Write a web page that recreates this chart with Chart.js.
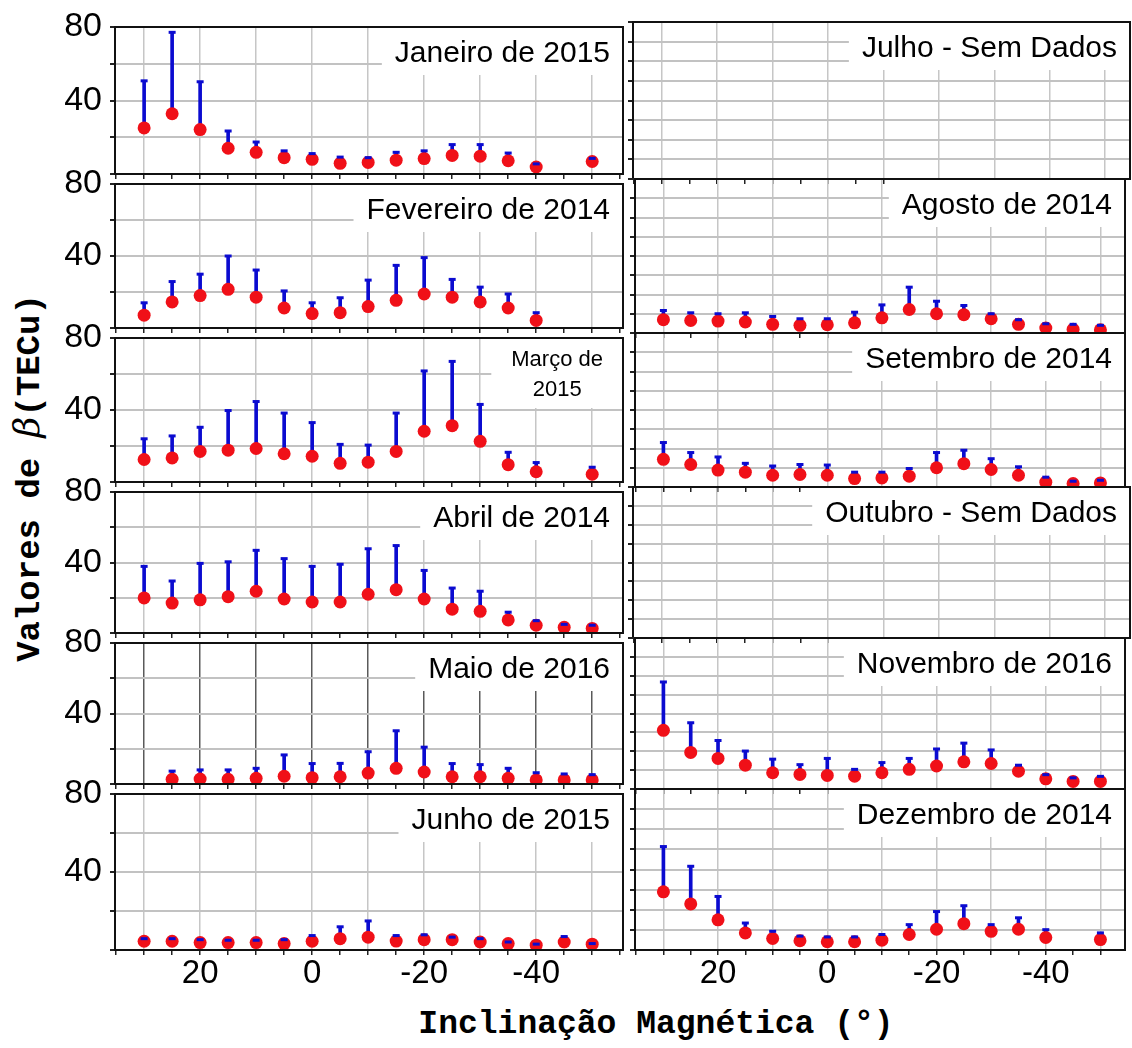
<!DOCTYPE html>
<html>
<head>
<meta charset="utf-8">
<script src="https://cdn.jsdelivr.net/npm/chart.js@4.4.1/dist/chart.umd.min.js"></script>
<style>
  body { margin: 0; background: #fff; width: 1132px; height: 1048px; position: relative; overflow: hidden; }
  canvas { position: absolute; }
  #tituloY {
    position: absolute; left: -184px; top: 458px; width: 420px; height: 40px; line-height: 40px;
    text-align: center; transform: rotate(-90deg);
    font: bold 34px "Liberation Mono", "DejaVu Sans Mono", monospace; color: #000; white-space: nowrap;
  }
  #tituloY i { font: italic 36px "DejaVu Serif", serif; }
  #tituloX {
    position: absolute; left: 356px; width: 600px; top: 1006px; text-align: center;
    font: bold 33px "Liberation Mono", "DejaVu Sans Mono", monospace; color: #000; white-space: nowrap;
  }
</style>
</head>
<body>
<div id="tituloY">Valores de <i>β</i>(TECu)</div>
<div id="tituloX">Inclinação Magnética (°)</div>
<script>
// inclinação magnética (graus) de cada ponto
const inclinacao = [30, 25, 20, 15, 10, 5, 0, -5, -10, -15, -20, -25, -30, -35, -40, -45, -50];
const rotulosX = [20, 0, -20, -40];
const rotulosY = [40, 80];

// beta (TECu) e limite superior da barra, por mês
const janeiroValor = [25.1, 32.8, 24.2, 14.0, 11.8, 8.9, 8.0, 5.8, 6.3, 7.5, 8.4, 10.1, 9.7, 7.2, 3.8, null, 6.8];
const janeiroSup   = [50.7, 77.1, 50.2, 23.4, 17.4, 12.6, 11.1, 9.2, 8.9, 11.8, 12.6, 16.0, 16.0, 11.4, 5.5, null, 8.5];

const fevereiroValor = [7.1, 14.5, 18.0, 21.5, 17.1, 11.1, 8.0, 8.5, 11.9, 15.4, 18.9, 17.1, 14.5, 11.1, 4.2, null, null];
const fevereiroSup   = [14.0, 25.8, 29.9, 40.0, 32.2, 20.6, 14.0, 16.8, 26.6, 34.8, 39.1, 27.0, 22.7, 18.9, 8.5, null, null];

const marcoValor = [12.5, 13.4, 17.0, 17.7, 18.6, 15.7, 14.3, 10.4, 11.0, 17.0, 28.2, 31.3, 22.6, 9.6, 5.7, null, 4.3];
const marcoSup   = [24.0, 25.6, 30.4, 39.7, 44.7, 38.3, 33.0, 20.9, 20.5, 38.3, 61.7, 67.0, 43.1, 16.5, 10.8, null, 8.2];

const abrilValor = [19.9, 17.0, 18.8, 20.6, 23.7, 19.3, 17.6, 17.6, 22.0, 24.6, 19.3, 13.5, 12.3, 7.4, 4.4, 3.2, 2.6];
const abrilSup   = [37.8, 29.5, 39.5, 40.4, 46.9, 42.2, 37.8, 39.0, 47.8, 49.6, 35.5, 25.5, 23.7, 11.8, 7.0, 4.9, 4.4];

const maioValor = [null, 2.7, 2.8, 2.7, 3.2, 4.4, 3.6, 4.1, 6.2, 8.9, 6.8, 4.1, 4.1, 3.2, 2.3, 2.3, 2.3];
const maioSup   = [null, 7.3, 8.0, 8.0, 8.9, 16.5, 11.6, 11.7, 18.3, 30.2, 20.9, 11.6, 11.0, 8.9, 6.4, 5.7, 5.3];

const junhoValor = [4.5, 4.5, 3.8, 3.8, 3.8, 3.3, 4.5, 5.8, 6.6, 4.6, 5.3, 5.3, 4.1, 3.3, 2.5, 4.1, 3.0];
const junhoSup   = [5.8, 5.8, 5.3, 5.0, 5.0, 5.3, 7.4, 11.9, 14.9, 7.4, 7.8, 6.6, 5.8, 4.1, 3.0, 6.9, 3.3];

const julhoValor = [];
const julhoSup   = [];

const agostoValor = [6.9, 6.5, 6.2, 5.7, 4.5, 4.0, 4.3, 5.3, 7.9, 12.2, 10.0, 9.5, 7.4, 4.5, 2.6, 1.9, 1.7];
const agostoSup   = [11.7, 10.5, 10.0, 10.5, 8.6, 7.4, 7.4, 10.8, 14.6, 23.8, 16.5, 14.3, 10.0, 6.9, 4.8, 4.5, 4.0];

const setembroValor = [14.4, 11.7, 8.8, 7.7, 6.1, 6.5, 6.1, 4.4, 4.7, 5.6, 10.0, 12.1, 9.1, 6.1, 2.5, 1.8, 2.1];
const setembroSup   = [23.1, 17.9, 15.6, 12.3, 10.9, 11.7, 11.4, 7.7, 7.7, 9.6, 17.9, 19.1, 14.7, 10.5, 5.1, 3.0, 3.5];

const outubroValor = [];
const outubroSup   = [];

const novembroValor = [31.1, 19.4, 16.2, 12.6, 8.6, 7.7, 7.2, 6.8, 8.6, 10.4, 12.2, 14.4, 13.5, 9.4, 5.4, 4.0, 4.0];
const novembroSup   = [56.7, 35.1, 25.7, 20.1, 15.8, 12.9, 16.2, 10.4, 14.0, 16.2, 21.2, 24.3, 20.7, 12.6, 7.6, 5.9, 6.7];

const dezembroValor = [28.9, 22.9, 15.0, 8.5, 5.7, 4.6, 4.1, 4.1, 4.9, 7.7, 10.3, 13.1, 9.3, 10.3, 6.2, null, 5.2];
const dezembroSup   = [51.4, 41.6, 26.6, 13.4, 9.3, 6.9, 6.5, 6.5, 7.7, 12.6, 19.1, 22.0, 12.6, 16.0, 10.1, null, 8.5];

const paineis = [
  { col: 0, lin: 0, nome: ["Janeiro de 2015"], valor: janeiroValor, sup: janeiroSup },
  { col: 0, lin: 1, nome: ["Fevereiro de 2014"], valor: fevereiroValor, sup: fevereiroSup },
  { col: 0, lin: 2, nome: ["Março de", "2015"], valor: marcoValor, sup: marcoSup },
  { col: 0, lin: 3, nome: ["Abril de 2014"], valor: abrilValor, sup: abrilSup },
  { col: 0, lin: 4, nome: ["Maio de 2016"], valor: maioValor, sup: maioSup },
  { col: 0, lin: 5, nome: ["Junho de 2015"], valor: junhoValor, sup: junhoSup },
  { col: 1, lin: 0, nome: ["Julho - Sem Dados"], valor: julhoValor, sup: julhoSup },
  { col: 1, lin: 1, nome: ["Agosto de 2014"], valor: agostoValor, sup: agostoSup },
  { col: 1, lin: 2, nome: ["Setembro de 2014"], valor: setembroValor, sup: setembroSup },
  { col: 1, lin: 3, nome: ["Outubro - Sem Dados"], valor: outubroValor, sup: outubroSup },
  { col: 1, lin: 4, nome: ["Novembro de 2016"], valor: novembroValor, sup: novembroSup },
  { col: 1, lin: 5, nome: ["Dezembro de 2014"], valor: dezembroValor, sup: dezembroSup }
];

// geometria das colunas e linhas
const colunas = [
  { left: 0, width: 630, eixo: 115, dir: 4, min: -55.5, max: 35.2 },
  { left: 628, width: 504, eixo: 5, dir: 2, min: -54.5, max: 35.2 }
];
const linhas = [22, 179, 333, 487, 638, 789, 950];

const azul = "#0b0bd0";
const vermelho = "#f01018";
const fonte = "'Liberation Sans', Arial, sans-serif";

Chart.defaults.font.family = fonte;
Chart.defaults.color = "#000";

const rotulo = {
  id: "rotulo",
  beforeDatasetsDraw(chart, args, opts) {
    const { ctx, chartArea: a } = chart;
    ctx.save();
    ctx.font = opts.size + "px " + fonte;
    const w = Math.max(...opts.linhas.map(t => ctx.measureText(t).width)) + opts.margem;
    const x0 = a.right - w;
    ctx.fillStyle = "#fff";
    ctx.fillRect(x0, a.top, w, opts.altura);
    ctx.fillStyle = "#000";
    ctx.textAlign = "center";
    ctx.textBaseline = "middle";
    opts.linhas.forEach((t, i) => ctx.fillText(t, x0 + w / 2, a.top + opts.y0 + i * opts.passo));
    ctx.restore();
  }
};

const moldura = {
  id: "moldura",
  afterDraw(chart) {
    const { ctx, chartArea: a } = chart;
    ctx.save();
    ctx.strokeStyle = "#111";
    ctx.lineWidth = 2;
    ctx.strokeRect(a.left, a.top, a.width, a.height);
    ctx.restore();
  }
};

paineis.forEach(p => {
  const c = colunas[p.col];
  const ultima = p.lin === 5;
  const altPainel = linhas[p.lin + 1] - linhas[p.lin];
  const baixo = ultima ? 48 : 20;

  const canvas = document.createElement("canvas");
  canvas.width = c.width;
  canvas.height = 20 + altPainel + baixo;
  canvas.style.left = c.left + "px";
  canvas.style.top = (linhas[p.lin] - 20) + "px";
  document.body.appendChild(canvas);

  const pontos = [], tampas = [], barras = [];
  inclinacao.forEach((x, i) => {
    if (p.valor[i] == null) return;
    pontos.push({ x: x, y: p.valor[i] });
    tampas.push({ x: x, y: p.sup[i] });
    barras.push({ x: x, y: [p.valor[i], p.sup[i]] });
  });

  const duasLinhas = p.nome.length > 1;
  const corGradeX = p.lin === 4 && p.col === 0 ? "#5a5a5a" : "#c6c6c6";

  new Chart(canvas, {
    type: "scatter",
    data: {
      datasets: [
        { type: "scatter", data: tampas, pointStyle: "line", radius: 3.5, borderColor: azul, borderWidth: 3, order: 0 },
        { type: "scatter", data: pontos, pointStyle: "circle", radius: 6.5, backgroundColor: vermelho, borderWidth: 0, order: 1 },
        { type: "bar", data: barras, backgroundColor: azul, barThickness: 3, borderWidth: 0, order: 2 }
      ]
    },
    options: {
      responsive: false,
      animation: false,
      events: [],
      layout: { padding: { top: 20, right: c.dir, left: 0, bottom: 0 } },
      plugins: {
        legend: { display: false },
        tooltip: { enabled: false },
        rotulo: {
          linhas: p.nome,
          size: duasLinhas ? 22 : 30,
          margem: duasLinhas ? 40 : 26,
          altura: duasLinhas ? 70 : 48,
          y0: duasLinhas ? 22 : 27,
          passo: 30
        }
      },
      scales: {
        x: {
          type: "linear",
          reverse: true,
          offset: false,
          min: c.min,
          max: c.max,
          afterFit: s => { s.height = baixo; },
          border: { display: false },
          grid: {
            offset: false,
            color: ctx => (ctx.tick && ctx.tick.value % 10 === 0 ? corGradeX : "rgba(0,0,0,0)"),
            lineWidth: 1.5,
            tickLength: 5,
            tickColor: "#222"
          },
          ticks: {
            stepSize: 5,
            includeBounds: false,
            autoSkip: false,
            maxRotation: 0,
            display: ultima,
            padding: 2,
            font: { size: 33, lineHeight: 1 },
            callback: v => (rotulosX.includes(v) ? String(v) : "")
          }
        },
        y: {
          type: "linear",
          min: 0,
          max: 80,
          afterFit: s => { s.width = c.eixo; },
          border: { display: false },
          grid: { color: "#c2c2c2", lineWidth: 2, tickLength: 5, tickColor: "#222" },
          ticks: {
            stepSize: 10,
            display: p.col === 0,
            padding: 8,
            font: { size: 34, lineHeight: 1 },
            callback: v => (rotulosY.includes(v) ? String(v) : "")
          }
        }
      }
    },
    plugins: [rotulo, moldura]
  });
});
</script>
</body>
</html>
